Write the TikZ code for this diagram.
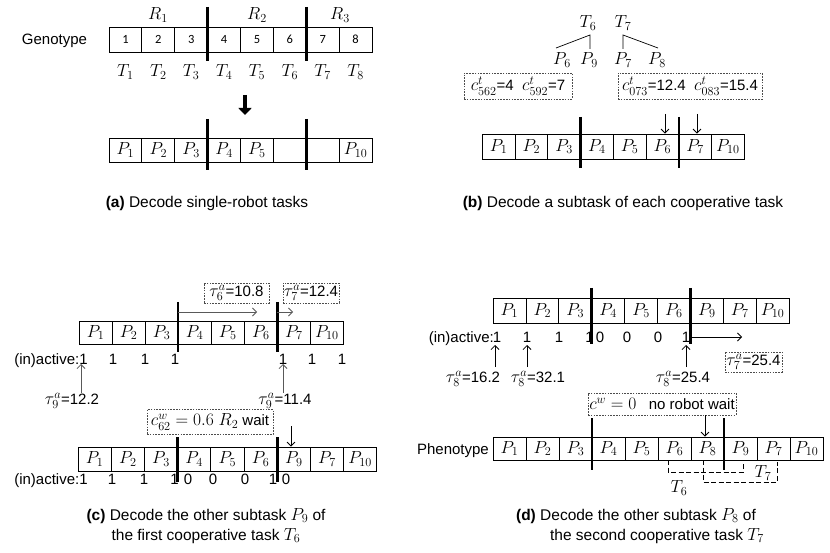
\RequirePackage{fix-cm}
\documentclass[tikz,border=0pt]{standalone}
\usepackage{graphicx}
\usepackage{fontspec}
\setmainfont{Liberation Sans}
\newfontfamily\calib{Carlito}
\usetikzlibrary{arrows.meta}
\newcommand\mth[1]{{\fontsize{17.5}{20}\selectfont$#1$}}
\begin{document}
\begin{tikzpicture}[x=1pt,y=-1pt,
  txt/.style={font=\fontsize{15}{18}\selectfont, inner sep=0pt},
  cell/.style={draw, line width=0.8pt, inner sep=0pt, anchor=center, font=\fontsize{15}{18}\selectfont},
  sepline/.style={line width=2.6pt},
  dbox/.style={draw=black!70, dash pattern=on 1.6pt off 1.2pt, line width=0.7pt, inner sep=0pt, font=\fontsize{15}{18}\selectfont},
  arr/.style={-{Straight Barb[length=4pt,width=8pt]}, line width=0.8pt},
  garr/.style={arr, draw=black!65},
  captxt/.style={font=\fontsize{15.5}{19}\selectfont, inner sep=0pt},
  brk/.style={dash pattern=on 5pt off 2.5pt, line width=0.7pt},
]
\useasboundingbox (0,0) rectangle (830,553);

% ================= (a) =================
\node[txt] (r1) at (158,15) {\mth{R_1}};
\node[txt] (r2) at (257,15) {\mth{R_2}};
\node[txt] (r3) at (340,15) {\mth{R_3}};
\node[txt, anchor=base] (geno) at (54.5,45) {Genotype};
\foreach \i in {1,...,8}
  \node[cell, minimum width=32.875pt, minimum height=25pt, font=\calib\fontsize{12.5}{14}\selectfont] (g\i) at ({109+(\i-0.5)*32.875},39.5) {\i};
\foreach \i in {1,...,8}
  \node[txt] (tl\i) at ({109+(\i-0.5)*32.875},72) {\mth{T_{\i}}};
\draw[sepline] (207.6,7) -- (207.6,61);
\draw[sepline] (306.25,7) -- (306.25,61);
\coordinate (bigA) at (245,95);
\coordinate (bigB) at (245,115);
\draw[line width=4pt, -{Triangle[length=7pt,width=13pt]}] (bigA) -- (bigB);
\foreach \t [count=\i] in {\mth{P_1},\mth{P_2},\mth{P_3},\mth{P_4},\mth{P_5},{},{},\mth{P_{10}}}
  \node[cell, minimum width=32.875pt, minimum height=24pt] (a\i) at ({109+(\i-0.5)*32.875},150) {\t};
\draw[sepline] (207.6,119) -- (207.6,170);
\draw[sepline] (306.25,119) -- (306.25,170);
\node[captxt] (capa) at (207,203) {\textbf{(a)} Decode single-robot tasks};

% ================= (b) =================
\node[txt] (bt6) at (588,23) {\mth{T_6}};
\node[txt] (bt7) at (623,23) {\mth{T_7}};
\node[txt] (bp6) at (562,60) {\mth{P_6}};
\node[txt] (bp9) at (589,60) {\mth{P_9}};
\node[txt] (bp7) at (623,60) {\mth{P_7}};
\node[txt] (bp8) at (657,60) {\mth{P_8}};
\coordinate (t6s) at (590,35);
\coordinate (t7s) at (623,35);
\coordinate (p6n) at (556,48);
\coordinate (p9n) at (590,49);
\coordinate (p7n) at (623,49);
\coordinate (p8n) at (658,48);
\draw[line width=0.7pt] (p6n) -- (t6s) -- (p9n);
\draw[line width=0.7pt] (p7n) -- (t7s) -- (p8n);
\node[dbox, minimum width=108pt, minimum height=26pt] (bbox1) at (518,86) {\mth{c^t_{562}}=4\ \ \mth{c^t_{592}}=7};
\node[dbox, minimum width=144pt, minimum height=26pt] (bbox2) at (690,86) {\mth{c^t_{073}}=12.4\ \ \mth{c^t_{083}}=15.4};
\foreach \t [count=\i] in {\mth{P_1},\mth{P_2},\mth{P_3},\mth{P_4},\mth{P_5},\mth{P_6},\mth{P_7},\mth{P_{10}}}
  \node[cell, minimum width=32.75pt, minimum height=25pt] (b\i) at ({482.3+(\i-0.5)*32.75},146.5) {\t};
\draw[sepline] (580.5,117) -- (580.5,168);
\draw[sepline] (678.8,117) -- (678.8,168);
\coordinate (barr1) at (665,114);
\coordinate (barr2) at (697,114);
\draw[arr] (barr1) -- (barr1 |- b6.north);
\draw[arr] (barr2) -- (barr2 |- b7.north);
\node[captxt] (capb) at (623,203) {\textbf{(b)} Decode a subtask of each cooperative task};

% ================= (c) =================
\node[dbox, minimum width=65pt, minimum height=20pt] (ctau6) at (236.5,293) {\mth{\tau^a_6}=10.8};
\node[dbox, minimum width=56pt, minimum height=20pt] (ctau7) at (311,293) {\mth{\tau^a_7}=12.4};
\foreach \t [count=\i] in {\mth{P_1},\mth{P_2},\mth{P_3},\mth{P_4},\mth{P_5},\mth{P_6},\mth{P_7},\mth{P_{10}}}
  \node[cell, minimum width=33.05pt, minimum height=23pt] (c\i) at ({79+(\i-0.5)*33.05},332.5) {\t};
\draw[sepline] (178.15,302) -- (178.15,352);
\draw[sepline] (277.3,302) -- (277.3,352);
\coordinate (cr1a) at (178.15,312);
\coordinate (cr1b) at (257,312);
\coordinate (cr2a) at (277.3,312);
\coordinate (cr2b) at (293,312);
\draw[garr] (cr1a) -- (cr1b);
\draw[garr] (cr2a) -- (cr2b);
\node[txt, anchor=base east] (cin1) at (79.5,364) {(in)active:};
\foreach \x [count=\i] in {83.5,113,145,175,283,312,342}
  \node[txt, anchor=base] (cd\i) at (\x,364) {1};
\node[txt] (cl1) at (72,401) {\mth{\tau^a_9}=12.2};
\node[txt] (cl2) at (285,401) {\mth{\tau^a_9}=11.4};
\draw[garr] (cl1.north -| 81,0) -- (81,364);
\draw[garr] (cl2.north -| 283,0) -- (283,364);
\node[dbox, minimum width=126pt, minimum height=25pt] (ccw) at (210,422) {\mth{c^w_{62}=0.6\;R_2} wait};
\coordinate (cdn) at (291,426);
\foreach \t [count=\i] in {\mth{P_1},\mth{P_2},\mth{P_3},\mth{P_4},\mth{P_5},\mth{P_6},\mth{P_9},\mth{P_7},\mth{P_{10}}}
  \node[cell, minimum width=33.2pt, minimum height=24pt] (cb\i) at ({78+(\i-0.5)*33.2},459) {\t};
\draw[arr] (cdn) -- (cdn |- cb7.north);
\draw[sepline] (177.6,437) -- (177.6,482);
\draw[sepline] (277.2,437) -- (277.2,482);
\node[txt, anchor=base east] (cin2) at (79.5,484) {(in)active:};
\foreach \x/\d [count=\i] in {83.5/1,112/1,144/1,174.5/1,188/0,213/0,245/0,273/1,286/0}
  \node[txt, anchor=base] (ce\i) at (\x,484) {\d};
\node[captxt] (capc1) at (206,516) {\textbf{(c)} Decode the other subtask \mth{P_9} of};
\node[captxt] (capc2) at (206,536) {the first cooperative task \mth{T_6}};

% ================= (d) =================
\foreach \t [count=\i] in {\mth{P_1},\mth{P_2},\mth{P_3},\mth{P_4},\mth{P_5},\mth{P_6},\mth{P_9},\mth{P_7},\mth{P_{10}}}
  \node[cell, minimum width=32.9pt, minimum height=25pt] (d\i) at ({493+(\i-0.5)*32.9},310.5) {\t};
\draw[sepline] (591.7,288) -- (591.7,344);
\draw[sepline] (690.4,288) -- (690.4,344);
\node[txt, anchor=base east] (din) at (494,342) {(in)active:};
\foreach \x/\d [count=\i] in {497/1,527/1,559/1,589.5/1,600/0,627/0,658/0,686/1}
  \node[txt, anchor=base] (dd\i) at (\x,342) {\d};
\coordinate (dra) at (690.4,337);
\coordinate (drb) at (742,337);
\draw[arr] (dra) -- (drb);
\node[dbox, minimum width=57pt, minimum height=20pt] (dtau7) at (753.5,362) {\mth{\tau^a_7}=25.4};
\node[txt] (dl1) at (473,379) {\mth{\tau^a_8}=16.2};
\node[txt] (dl2) at (538,379) {\mth{\tau^a_8}=32.1};
\node[txt] (dl3) at (683,379) {\mth{\tau^a_8}=25.4};
\coordinate (du1) at (495,367);
\coordinate (du2) at (527,367);
\coordinate (du3) at (686,367);
\draw[arr] (du1) -- (495,345);
\draw[arr] (du2) -- (527,345);
\draw[arr] (du3) -- (686,345);
\node[dbox, minimum width=148pt, minimum height=22pt] (dcw) at (662,404) {\mth{c^w=0}\ \ \ no robot wait};
\node[txt, anchor=base east] (pheno) at (489,454) {Phenotype};
\foreach \t [count=\i] in {\mth{P_1},\mth{P_2},\mth{P_3},\mth{P_4},\mth{P_5},\mth{P_6},\mth{P_8},\mth{P_9},\mth{P_7},\mth{P_{10}}}
  \node[cell, minimum width=33pt, minimum height=23pt] (e\i) at ({493+(\i-0.5)*33},448.5) {\t};
\coordinate (ddn) at (705,415);
\draw[arr] (ddn) -- (ddn |- e7.north);
\draw[sepline] (592,418) -- (592,470);
\draw[sepline] (724,418) -- (724,470);
\draw[brk] (668,460) -- (668,472) -- (743,472) -- (743,462);
\draw[brk] (703,460) -- (703,482) -- (777,482) -- (777,462);
\node[txt] (dT6) at (679,488) {\mth{T_6}};
\node[txt] (dT7) at (763,473) {\mth{T_7}};
\node[captxt] (capd1) at (636,516) {\textbf{(d)} Decode the other subtask \mth{P_8} of};
\node[captxt] (capd2) at (657,536) {the second cooperative task \mth{T_7}};
\end{tikzpicture}
\end{document}
